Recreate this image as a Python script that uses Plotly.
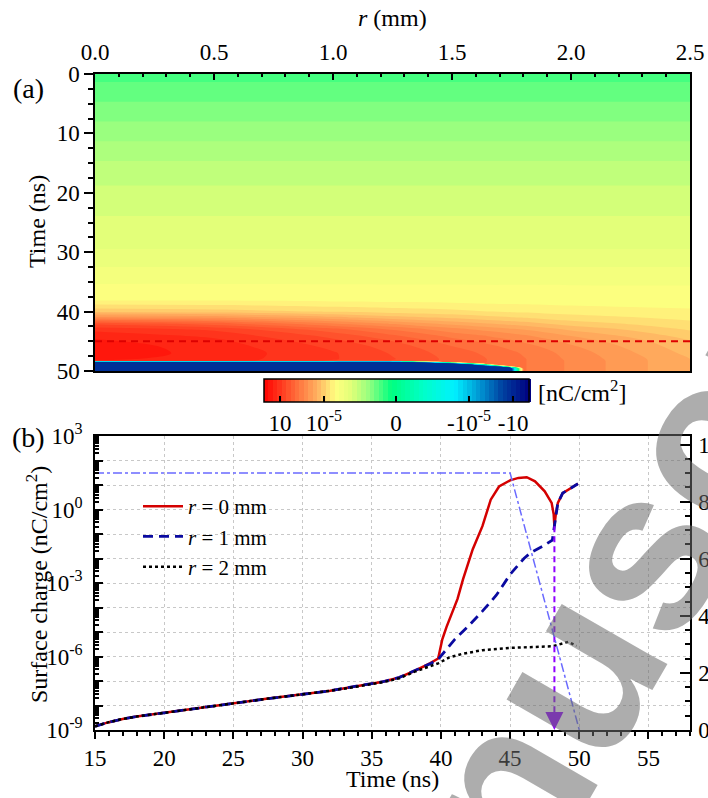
import plotly.graph_objects as go

W, H = 708, 798
FONT = "Liberation Serif"

# ---------------- panel (a): colour level ----------------
# level = position on the colour bar (0 -> +10 nC/cm2 end, 1 -> -10 nC/cm2 end)
r_mm = [0, 0.5, 1.0, 1.25, 1.5, 1.65, 1.75, 1.8, 2.0, 2.5]
t_map = [0, 5, 10, 15, 20, 25, 30, 35, 38, 40, 41, 42, 43, 44, 45, 46, 47, 48,
         48.3, 48.5, 48.8, 49.2, 49.6, 50]
level = [
    [0.44, 0.44, 0.44, 0.44, 0.44, 0.44, 0.44, 0.44, 0.44, 0.44],
    [0.415, 0.415, 0.415, 0.415, 0.415, 0.415, 0.415, 0.415, 0.415, 0.415],
    [0.39, 0.39, 0.39, 0.39, 0.39, 0.39, 0.39, 0.39, 0.39, 0.39],
    [0.365, 0.365, 0.365, 0.365, 0.365, 0.365, 0.365, 0.365, 0.365, 0.365],
    [0.345, 0.345, 0.345, 0.345, 0.345, 0.345, 0.345, 0.345, 0.345, 0.345],
    [0.33, 0.33, 0.33, 0.33, 0.33, 0.33, 0.33, 0.33, 0.33, 0.33],
    [0.315, 0.315, 0.315, 0.315, 0.315, 0.315, 0.315, 0.315, 0.315, 0.315],
    [0.285, 0.285, 0.285, 0.285, 0.285, 0.285, 0.285, 0.285, 0.285, 0.285],
    [0.27, 0.27, 0.272, 0.273, 0.274, 0.275, 0.275, 0.275, 0.276, 0.277],
    [0.22, 0.225, 0.235, 0.24, 0.245, 0.25, 0.252, 0.253, 0.257, 0.263],
    [0.16, 0.17, 0.195, 0.21, 0.22, 0.228, 0.232, 0.234, 0.243, 0.255],
    [0.09, 0.11, 0.15, 0.17, 0.19, 0.2, 0.207, 0.21, 0.225, 0.245],
    [0.055, 0.07, 0.11, 0.135, 0.16, 0.172, 0.18, 0.184, 0.203, 0.235],
    [0.04, 0.055, 0.09, 0.115, 0.14, 0.152, 0.16, 0.165, 0.185, 0.225],
    [0.03, 0.045, 0.078, 0.1, 0.125, 0.138, 0.147, 0.152, 0.172, 0.215],
    [0.025, 0.04, 0.07, 0.09, 0.115, 0.128, 0.137, 0.142, 0.163, 0.21],
    [0.025, 0.038, 0.065, 0.085, 0.108, 0.12, 0.13, 0.135, 0.157, 0.205],
    [0.03, 0.04, 0.065, 0.082, 0.105, 0.117, 0.127, 0.132, 0.154, 0.2],
    [0.04, 0.045, 0.07, 0.085, 0.105, 0.117, 0.127, 0.132, 0.153, 0.2],
    [0.93, 0.93, 0.93, 0.93, 0.105, 0.117, 0.127, 0.132, 0.153, 0.2],
    [0.93, 0.93, 0.93, 0.93, 0.93, 0.117, 0.127, 0.132, 0.153, 0.2],
    [0.93, 0.93, 0.93, 0.93, 0.93, 0.93, 0.127, 0.132, 0.153, 0.2],
    [0.93, 0.93, 0.93, 0.93, 0.93, 0.93, 0.93, 0.132, 0.153, 0.2],
    [0.93, 0.93, 0.93, 0.93, 0.93, 0.93, 0.93, 0.132, 0.153, 0.2],
]
t_marker = 45  # red dashed line in (a)

cb_tickvals = [0.06, 0.226, 0.498, 0.774, 0.94]
cb_ticktext = ["10", "10<sup>-5</sup>", "0", "-10<sup>-5</sup>", "-10"]

colorscale = [
    [0.0, "#ff0000"], [0.1, "#ff5a30"], [0.2, "#ffb060"], [0.27, "#ffff80"],
    [0.33, "#e0ff78"], [0.4, "#90ff80"], [0.48, "#00ff80"], [0.6, "#00ffc8"],
    [0.72, "#00f0ff"], [0.82, "#0090d0"], [0.9, "#0040a0"], [1.0, "#000080"],
]

# ---------------- panel (b): surface charge vs time ----------------
t_r0 = [15, 16, 17, 18, 20, 22.5, 25, 27.5, 30, 32, 34, 35.8, 37, 38.2, 39.2, 39.8,
        40.1, 40.4, 41.2, 41.6, 42.3, 43.0, 43.6, 44.2, 45.0, 45.6, 46.2, 46.8, 47.5,
        48.0, 48.15, 48.2, 48.3, 48.45, 48.8, 49.4, 49.9]
q_r0 = [1.41e-9, 2.09e-9, 2.82e-9, 3.55e-9, 5.01e-9, 7.94e-9, 1.26e-8, 1.91e-8, 2.88e-8,
        3.98e-8, 6.31e-8, 9.33e-8, 1.41e-7, 2.75e-7, 5.25e-7, 8.32e-7,
        5.01e-6, 1.58e-5, 2.24e-4, 1.45e-3, 2.40e-2, 0.209, 2.51, 8.71, 15.5, 19.5,
        20.9, 14.1, 5.50, 1.86, 0.631, 0.209, 0.63, 1.86, 4.68, 7.59, 11.2]

t_r1 = [15, 16, 17, 18, 20, 22.5, 25, 27.5, 30, 32, 34, 35.8, 37, 38.2, 39.2, 39.8,
        40.6, 41.0, 42.0, 43.0, 44.0, 45.0, 46.0, 46.5, 47.4, 48.05, 48.2, 48.3,
        48.45, 48.8, 49.4, 49.9]
q_r1 = [1.41e-9, 2.09e-9, 2.82e-9, 3.55e-9, 5.01e-9, 7.94e-9, 1.26e-8, 1.91e-8, 2.88e-8,
        3.98e-8, 6.31e-8, 9.33e-8, 1.41e-7, 2.75e-7, 5.0e-7, 7.6e-7,
        2.88e-6, 5.01e-6, 1.78e-5, 7.08e-5, 3.16e-4, 2.24e-3, 1.0e-2, 1.74e-2, 3.24e-2,
        5.62e-2, 0.209, 0.63, 1.86, 4.68, 7.59, 11.2]

t_r2 = [15, 16, 17, 18, 20, 22.5, 25, 27.5, 30, 32, 34, 35.8, 37, 38.2, 39.8, 40.6,
        41.5, 43.0, 45.0, 46.9, 48.1, 49.2, 49.8]
q_r2 = [1.41e-9, 2.09e-9, 2.82e-9, 3.55e-9, 5.01e-9, 7.94e-9, 1.26e-8, 1.91e-8, 2.88e-8,
        3.98e-8, 6.0e-8, 8.9e-8, 1.3e-7, 2.51e-7, 5.25e-7, 9.12e-7,
        1.26e-6, 1.82e-6, 2.24e-6, 2.45e-6, 2.63e-6, 3.98e-6, 2.69e-6]

t_volt = [15, 45, 50]
volt = [9, 9, 0]

t_arrow = 48.2
q_arrow_top = 0.209

y_decades = [-9, -8, -7, -6, -5, -4, -3, -2, -1, 0, 1, 2, 3]
y_labels = ["10<sup>%d</sup>" % d if d % 3 == 0 else "" for d in y_decades]

# ---------------- layout helpers ----------------
def px(xp):
    return xp / W

def py(yp):
    return 1 - yp / H

XDOM = [px(95), px(690)]
YDOM_A = [py(371), py(74)]
YDOM_B = [py(730), py(436)]

fig = go.Figure()

fig.add_trace(go.Contour(
    x=r_mm, y=t_map, z=level, xaxis="x", yaxis="y",
    colorscale=colorscale, zmin=0, zmax=1,
    autocontour=False, contours=dict(start=0, end=1, size=1 / 60, coloring="fill"),
    line=dict(width=0), showlegend=False, hoverinfo="skip",
    colorbar=dict(
        orientation="h", x=px(264), xanchor="left", y=py(379), yanchor="top",
        thickness=23, thicknessmode="pixels", len=265, lenmode="pixels",
        xpad=0, ypad=0, outlinewidth=1.5, outlinecolor="black",
        tickmode="array", tickvals=cb_tickvals, ticktext=cb_ticktext, tickangle=0,
        ticks="inside", ticklen=6, tickwidth=1.5, tickcolor="black",
        tickfont=dict(family=FONT, size=23, color="black"),
    ),
))
fig.add_trace(go.Scatter(
    x=[r_mm[0], r_mm[-1]], y=[t_marker, t_marker], xaxis="x", yaxis="y",
    mode="lines", line=dict(color="#dd0000", width=2, dash="7px,5px"),
    showlegend=False, hoverinfo="skip"))

fig.add_trace(go.Scatter(
    x=t_volt, y=volt, xaxis="x2", yaxis="y3", mode="lines",
    line=dict(color="#6a6aff", width=1.5, dash="dashdot"),
    showlegend=False, hoverinfo="skip"))
fig.add_trace(go.Scatter(
    x=t_r0, y=q_r0, xaxis="x2", yaxis="y2", mode="lines", name="<i>r</i> = 0 mm",
    line=dict(color="#d40000", width=2.5)))
fig.add_trace(go.Scatter(
    x=t_r1, y=q_r1, xaxis="x2", yaxis="y2", mode="lines", name="<i>r</i> = 1 mm",
    line=dict(color="#0a0aa0", width=2.8, dash="10px,6px")))
fig.add_trace(go.Scatter(
    x=t_r2, y=q_r2, xaxis="x2", yaxis="y2", mode="lines", name="<i>r</i> = 2 mm",
    line=dict(color="black", width=2.5, dash="dot")))
fig.add_trace(go.Scatter(
    x=[t_arrow, t_arrow], y=[q_arrow_top, 4e-9], xaxis="x2", yaxis="y2", mode="lines",
    line=dict(color="#8f00ff", width=2, dash="6px,4px"), showlegend=False, hoverinfo="skip"))

tickfont = dict(family=FONT, size=23, color="black")
axis_common = dict(showline=True, linecolor="black", linewidth=1.5, tickcolor="black",
                   tickwidth=1.5, tickfont=tickfont, zeroline=False, automargin=False)

fig.update_layout(
    template="none",
    width=W, height=H, margin=dict(l=0, r=0, t=0, b=0, pad=0),
    paper_bgcolor="white", plot_bgcolor="white",
    font=dict(family=FONT, size=23, color="black"),
    xaxis=dict(domain=XDOM, anchor="y", side="top", range=[0, 2.5], dtick=0.5,
               tickformat=".1f", ticks="inside", ticklen=6, mirror=True, showgrid=False,
               ticklabelstandoff=3,
               minor=dict(dtick=0.1, ticks="inside", ticklen=3, tickcolor="black"),
               **axis_common),
    yaxis=dict(domain=YDOM_A, anchor="x", range=[50, 0], dtick=10, ticks="outside",
               ticklen=9, mirror=True, showgrid=False, ticklabelstandoff=0,
               minor=dict(dtick=2.5, ticks="outside", ticklen=5, tickcolor="black"),
               **axis_common),
    xaxis2=dict(domain=XDOM, anchor="y2", range=[15, 58], dtick=5, ticks="outside",
                ticklen=7, mirror=True, showgrid=True, gridcolor="#c8c8c8",
                griddash="dot", gridwidth=1, ticklabelstandoff=0,
                minor=dict(dtick=1, ticks="outside", ticklen=4, tickcolor="black"),
                **axis_common),
    yaxis2=dict(domain=YDOM_B, anchor="x2", type="log", range=[-9, 3],
                tickmode="array", tickvals=[10.0 ** d for d in y_decades],
                ticktext=y_labels, ticks="inside", ticklen=8, showgrid=True,
                gridcolor="#c8c8c8", griddash="dot", gridwidth=1, ticklabelstandoff=6,
                minor=dict(tickmode="array",
                           tickvals=[k * 10.0 ** d for d in y_decades[:-1] for k in range(2, 10)],
                           ticks="inside", ticklen=4, tickcolor="black"),
                **axis_common),
    yaxis3=dict(overlaying="y2", anchor="x2", side="right", range=[0, 10.3],
                tickmode="array", tickvals=[0, 2, 4, 6, 8, 10], ticks="inside",
                ticklen=10, showgrid=False, ticklabelstandoff=2,
                minor=dict(dtick=0.5, ticks="inside", ticklen=5, tickcolor="black"),
                **axis_common),
    legend=dict(x=px(138), y=py(486), xanchor="left", yanchor="top",
                bgcolor="rgba(0,0,0,0)", font=dict(family=FONT, size=21),
                tracegroupgap=0, itemwidth=40),
    showlegend=True,
)

ann = [
    dict(text="(a)", x=px(29), y=py(88), font=dict(family=FONT, size=28)),
    dict(text="(b)", x=px(29), y=py(437), font=dict(family=FONT, size=28)),
    dict(text="<i>r</i> (mm)", x=px(392), y=py(18), font=dict(family=FONT, size=24)),
    dict(text="Time (ns)", x=px(392), y=py(779), font=dict(family=FONT, size=24)),
    dict(text="Time (ns)", x=px(37), y=py(222), textangle=-90,
         font=dict(family=FONT, size=24)),
    dict(text="Surface charge (nC/cm<sup>2</sup>)", x=px(37), y=py(585), textangle=-90,
         font=dict(family=FONT, size=24)),
]
for a in ann:
    fig.add_annotation(xref="paper", yref="paper", showarrow=False,
                       xanchor="center", yanchor="middle", **a)

# colour-bar unit label
fig.add_annotation(text="[nC/cm<sup>2</sup>]", xref="paper", yref="paper",
                   x=px(536), y=py(391), xanchor="left", yanchor="middle",
                   showarrow=False, font=dict(family=FONT, size=24))

# arrow head of the purple marker
fig.add_annotation(x=t_arrow, y=-9, ax=t_arrow, ay=-8.3, xref="x2", yref="y2",
                   axref="x2", ayref="y2", showarrow=True, arrowhead=2, arrowsize=1.8,
                   arrowwidth=2, arrowcolor="#8f00ff", text="")

# grey "Manuscript" watermark over the lower right corner
fig.add_annotation(text="<b>Manuscript</b>", xref="paper", yref="paper",
                   x=px(612), y=py(600), xanchor="center", yanchor="middle",
                   showarrow=False, textangle=-60,
                   font=dict(family="Liberation Sans", size=230,
                             color="rgba(105,105,105,0.55)"))

fig.write_html("out.html")
